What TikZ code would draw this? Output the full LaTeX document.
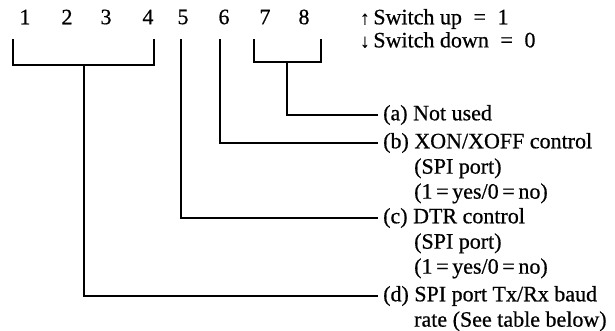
\documentclass[tikz,border=0pt]{standalone}
\usepackage{fontspec}
\setmainfont{Liberation Serif}[FakeBold=0.6]
\usetikzlibrary{positioning}

\begin{document}
\begin{tikzpicture}[x=1pt, y=-1pt, num/.style={font=\fontsize{22}{25}\selectfont, inner sep=0pt}, lbl/.style={font=\fontsize{22}{25}\selectfont, anchor=west, inner sep=0pt}, cont/.style={font=\fontsize{22}{25}\selectfont, align=left, inner sep=0pt}, wire/.style={line width=1.8pt, line cap=rect, shorten >=6pt}]
				\useasboundingbox (0,0) rectangle (615,330);
				
				% Switch numbers
				\node [num] (n1) at (25,17) {1};
				\node [num] (n2) at (67,17) {2};
				\node [num] (n3) at (106,17) {3};
				\node [num] (n4) at (148,17) {4};
				\node [num] (n5) at (183,17) {5};
				\node [num] (n6) at (224,17) {6};
				\node [num] (n7) at (265,17) {7};
				\node [num] (n8) at (304,17) {8};
				
				% Legend
				\node [lbl] (up) at (360,19) {{\fontsize{19}{19}\selectfont ↑}\,Switch up \;=\; 1};
				\node [lbl] (down) at (360,40) {{\fontsize{19}{19}\selectfont ↓}\,Switch down \;=\; 0};
				
				% Switch legs
				\coordinate (t1) at (13,40);
				\coordinate (t4) at (154,40);
				\coordinate (t5) at (181,40);
				\coordinate (t6) at (220,40);
				\coordinate (t7) at (254,40);
				\coordinate (t8) at (321,40);
				\coordinate (g14) at (84,65);
				\coordinate (g78) at (287,62);
				
				% Functions
				\node [lbl] (la) at (383,115) {(a) Not used};
				\node [lbl] (lb) at (383,143) {(b) XON/XOFF control};
				\node [cont, below right=5pt and 31pt of lb.south west] (lb2) {(SPI port)\\(1\,=\,yes/0\,=\,no)};
				\node [lbl] (lc) at (383,218) {(c) DTR control};
				\node [cont, below right=5pt and 31pt of lc.south west] (lc2) {(SPI port)\\(1\,=\,yes/0\,=\,no)};
				\node [lbl] (ld) at (383,296) {(d) SPI port Tx/Rx baud};
				\node [cont, below right=5pt and 31pt of ld.south west] (ld2) {rate (See table below)};
				
				\draw [wire, shorten >=0pt] (t1) |- (g14) -| (t4);
				\draw [wire, shorten >=0pt] (t7) |- (g78) -| (t8);
				\draw [wire] (g78) |- (la.west);
				\draw [wire] (t6) |- (lb.west);
				\draw [wire] (t5) |- (lc.west);
				\draw [wire] (g14) |- (ld.west);
			\end{tikzpicture}
\end{document}
